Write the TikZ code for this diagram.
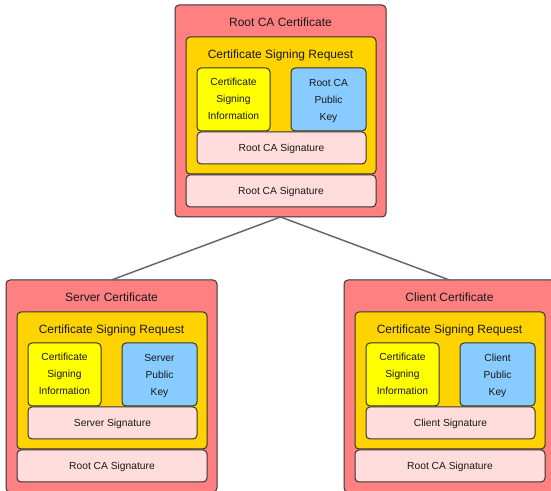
\documentclass[tikz,border=0pt]{standalone}
\usepackage{fontspec}
\setmainfont{Liberation Sans}
\definecolor{certred}{HTML}{FF8080}
\definecolor{csrgold}{HTML}{FFD300}
\definecolor{infoyellow}{HTML}{FFFF00}
\definecolor{keyblue}{HTML}{88CCFF}
\definecolor{sigpink}{HTML}{FFDDDD}
\definecolor{linkgray}{HTML}{666666}
\definecolor{edgedark}{HTML}{333333}
\tikzset{
  box/.style={draw=edgedark, line width=0.75pt, rounded corners=3pt, anchor=north west, inner sep=0pt, outer sep=0pt},
  bigtext/.style={font=\fontsize{9}{11}\selectfont, inner sep=0pt, anchor=base, text=black!90},
  smalltext/.style={font=\fontsize{7.7}{12.75}\selectfont, align=center, inner sep=0pt, text=black!90},
  sigtext/.style={font=\fontsize{7.7}{12.75}\selectfont, inner sep=0pt, anchor=base, text=black!90},
  link/.style={draw=linkgray, line width=1.1pt}
}
\newcommand\certbox[6]{%
  \begin{scope}[shift={(#2,#3)}]
    \node[box, fill=certred, minimum width={211*0.75pt}, minimum height={212*0.75pt}] (#1) at (0,0) {};
    \node[bigtext] (#1title) at (105.5,22) {#4};
    \node[box, fill=csrgold, minimum width={190*0.75pt}, minimum height={137*0.75pt}] (#1csr) at (11,32) {};
    \node[bigtext] (#1csrtitle) at (105.5,53.5) {Certificate Signing Request};
    \node[box, fill=infoyellow, minimum width={73*0.75pt}, minimum height={63*0.75pt}] (#1info) at (22,63) {};
    \node[smalltext] (#1infotext) at (58.5,94) {Certificate\\Signing\\Information};
    \node[box, fill=keyblue, minimum width={75*0.75pt}, minimum height={63*0.75pt}] (#1key) at (116,63) {};
    \node[smalltext] (#1keytext) at (153.5,96) {#5\\Public\\Key};
    \node[box, fill=sigpink, minimum width={169*0.75pt}, minimum height={32*0.75pt}] (#1sig) at (22,127) {};
    \node[sigtext] (#1sigtext) at (106.5,147) {#6};
    \node[box, fill=sigpink, minimum width={190*0.75pt}, minimum height={32*0.75pt}] (#1casig) at (11,170) {};
    \node[sigtext] (#1casigtext) at (106,190) {Root CA Signature};
  \end{scope}%
}
\begin{document}
\begin{tikzpicture}[x=0.75pt, y=-0.75pt]
  \useasboundingbox (0,0) rectangle (551,491);
  \clip (0,0) rectangle (551,491);
  \certbox{root}{175}{5}{Root CA Certificate}{Root CA}{Root CA Signature}
  \certbox{server}{6}{280}{Server Certificate}{Server}{Server Signature}
  \certbox{client}{344}{280}{Client Certificate}{Client}{Client Signature}
  \draw[link] (root.south) -- (server.north);
  \draw[link] (root.south) -- (client.north);
\end{tikzpicture}
\end{document}
